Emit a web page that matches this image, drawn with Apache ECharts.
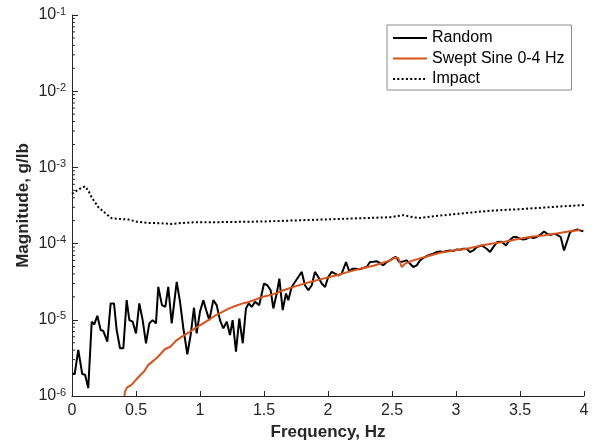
<!DOCTYPE html>
<html>
<head>
<meta charset="utf-8">
<script src="https://cdn.jsdelivr.net/npm/echarts@6/dist/echarts.min.js"></script>
<style>html,body{margin:0;padding:0;background:#fff;}#c{width:593px;height:446px;}</style>
</head>
<body>
<div id="c"></div>
<script>
var seriesNames = ['Random', 'Swept Sine 0-4 Hz', 'Impact'];
var xTicks = [0, 0.5, 1, 1.5, 2, 2.5, 3, 3.5, 4];
var yDecades = [1e-6, 1e-5, 1e-4, 1e-3, 1e-2, 1e-1];

var randomFreq = [0.005,0.021,0.049,0.080,0.102,0.127,0.154,0.174,0.198,0.224,0.245,0.276,0.302,0.328,0.349,0.375,0.401,0.427,0.448,0.474,0.500,0.526,0.552,0.578,0.604,0.630,0.656,0.674,0.703,0.729,0.752,0.779,0.818,0.844,0.870,0.901,0.927,0.953,0.974,1.000,1.026,1.052,1.073,1.104,1.130,1.156,1.182,1.209,1.234,1.255,1.281,1.307,1.334,1.359,1.380,1.404,1.430,1.463,1.500,1.526,1.552,1.573,1.599,1.620,1.646,1.672,1.690,1.716,1.742,1.768,1.795,1.820,1.846,1.873,1.898,1.924,1.951,1.977,2.002,2.029,2.055,2.080,2.107,2.141,2.166,2.193,2.219,2.245,2.276,2.302,2.328,2.354,2.380,2.406,2.432,2.459,2.484,2.510,2.531,2.557,2.588,2.615,2.641,2.666,2.693,2.719,2.745,2.771,2.797,2.823,2.849,2.875,2.901,2.927,2.953,2.979,3.005,3.031,3.057,3.084,3.109,3.135,3.162,3.201,3.240,3.266,3.291,3.323,3.357,3.391,3.416,3.448,3.474,3.500,3.526,3.552,3.578,3.604,3.630,3.656,3.688,3.713,3.740,3.766,3.791,3.818,3.844,3.870,3.891,3.916,3.948,3.974,3.995];
var randomMag = [1.94e-6,1.94e-6,4.02e-6,1.94e-6,1.90e-6,1.27e-6,9.44e-6,8.71e-6,1.13e-5,7.34e-6,7.12e-6,5.18e-6,1.64e-5,1.64e-5,7.34e-6,4.23e-6,4.23e-6,1.81e-5,9.91e-6,9.44e-6,6.64e-6,1.64e-5,9.91e-6,4.92e-6,8.97e-6,9.91e-6,8.97e-6,2.70e-5,1.56e-5,1.48e-5,2.70e-5,8.97e-6,3.14e-5,1.72e-5,7.72e-6,3.53e-6,6.31e-6,1.44e-5,6.64e-6,1.28e-5,1.81e-5,1.28e-5,9.91e-6,1.81e-5,1.56e-5,9.91e-6,7.72e-6,9.44e-6,6.31e-6,9.91e-6,3.83e-6,1.04e-5,4.92e-6,1.41e-5,1.64e-5,1.48e-5,1.72e-5,1.56e-5,2.99e-5,2.84e-5,2.44e-5,1.41e-5,2.21e-5,3.47e-5,1.34e-5,2.21e-5,1.81e-5,2.70e-5,3.14e-5,3.65e-5,4.25e-5,2.84e-5,2.44e-5,2.84e-5,4.25e-5,3.65e-5,2.99e-5,2.70e-5,3.65e-5,4.25e-5,4.03e-5,3.84e-5,4.03e-5,5.73e-5,4.32e-5,4.69e-5,4.69e-5,4.59e-5,4.79e-5,4.93e-5,5.73e-5,5.78e-5,5.87e-5,5.53e-5,5.18e-5,5.73e-5,6.02e-5,6.47e-5,6.67e-5,5.73e-5,5.84e-5,6.02e-5,5.45e-5,4.93e-5,5.18e-5,6.02e-5,6.47e-5,6.87e-5,7.14e-5,7.36e-5,7.74e-5,7.89e-5,7.74e-5,7.98e-5,8.13e-5,7.98e-5,8.38e-5,8.30e-5,8.55e-5,8.55e-5,7.74e-5,8.13e-5,9.0e-5,9.44e-5,8.55e-5,7.74e-5,9.0e-5,1.05e-4,1.06e-4,9.44e-5,1.10e-4,1.22e-4,1.22e-4,1.16e-4,1.13e-4,1.16e-4,1.22e-4,1.18e-4,1.22e-4,1.30e-4,1.44e-4,1.34e-4,1.30e-4,1.34e-4,1.30e-4,1.22e-4,8.13e-5,1.10e-4,1.41e-4,1.48e-4,1.53e-4,1.48e-4,1.45e-4];

var sweptFreq = [0.41,0.414,0.432,0.467,0.492,0.531,0.563,0.596,0.635,0.674,0.727,0.766,0.813,0.862,0.914,0.966,1.018,1.068,1.120,1.172,1.224,1.276,1.328,1.380,1.432,1.484,1.536,1.600,1.651,1.755,1.859,1.963,2.068,2.172,2.276,2.354,2.406,2.484,2.523,2.549,2.576,2.602,2.666,2.771,2.875,2.979,3.084,3.175,3.276,3.380,3.484,3.588,3.693,3.797,3.901,3.974];
var sweptMag = [1.0e-6,1.15e-6,1.30e-6,1.41e-6,1.58e-6,1.86e-6,2.10e-6,2.56e-6,2.89e-6,3.30e-6,4.14e-6,4.39e-6,5.33e-6,6.07e-6,6.85e-6,7.84e-6,8.84e-6,9.97e-6,1.14e-5,1.26e-5,1.40e-5,1.52e-5,1.63e-5,1.71e-5,1.84e-5,1.99e-5,2.09e-5,2.24e-5,2.44e-5,2.79e-5,3.14e-5,3.47e-5,3.84e-5,4.32e-5,4.79e-5,5.13e-5,5.45e-5,6.02e-5,6.52e-5,6.47e-5,4.93e-5,5.45e-5,6.02e-5,6.79e-5,7.59e-5,8.13e-5,8.55e-5,9.27e-5,9.94e-5,1.06e-4,1.15e-4,1.23e-4,1.29e-4,1.37e-4,1.46e-4,1.51e-4];

var impactFreq = [0,0.037,0.076,0.102,0.128,0.154,0.180,0.206,0.245,0.284,0.310,0.375,0.440,0.505,0.583,0.688,0.779,0.869,0.974,1.130,1.500,2.000,2.484,2.588,2.641,2.706,2.797,3.005,3.266,3.526,3.786,4.000];
var impactMag = [4.50e-4,4.95e-4,5.40e-4,5.64e-4,4.93e-4,4.04e-4,3.48e-4,3.00e-4,2.63e-4,2.33e-4,2.15e-4,2.11e-4,2.07e-4,1.94e-4,1.87e-4,1.85e-4,1.81e-4,1.87e-4,1.91e-4,1.91e-4,1.95e-4,2.08e-4,2.22e-4,2.36e-4,2.26e-4,2.17e-4,2.26e-4,2.45e-4,2.70e-4,2.85e-4,3.05e-4,3.21e-4];

function pairs(xs, ys) { return xs.map(function (x, i) { return [x, ys[i]]; }); }

var FONT = 'Liberation Sans, Arial, Helvetica, sans-serif';
var AX = '#262626';
var chart = echarts.init(document.getElementById('c'), null, { renderer: 'canvas' });
var option = {
  animation: false,
  backgroundColor: '#ffffff',
  grid: { left: 72, right: 9, top: 15, bottom: 48, containLabel: false },
  xAxis: {
    type: 'value', min: 0, max: 4, interval: 0.5,
    name: 'Frequency, Hz', nameLocation: 'middle', nameGap: 28, nameMoveOverlap: false,
    nameTextStyle: { fontFamily: FONT, fontSize: 17, fontWeight: 'bold', color: AX },
    axisLine: { lineStyle: { color: AX, width: 1 } },
    axisTick: { inside: true, length: 5, lineStyle: { color: AX } },
    axisLabel: { fontFamily: FONT, fontSize: 16, color: AX, margin: 7,
      formatter: function (v) { return String(v); } },
    splitLine: { show: false }
  },
  yAxis: {
    type: 'log', logBase: 10, min: yDecades[0], max: yDecades[yDecades.length - 1],
    name: 'Magnitude, g/lb', nameLocation: 'middle', nameGap: 40, nameRotate: 90, nameMoveOverlap: false,
    nameTextStyle: { fontFamily: FONT, fontSize: 17, fontWeight: 'bold', color: AX },
    axisLine: { lineStyle: { color: AX, width: 1 } },
    axisTick: { inside: true, length: 6, lineStyle: { color: AX } },
    axisLabel: {
      margin: 6,
      formatter: function (v) {
        var e = Math.round(Math.log10(v));
        return '{b|10}{s|' + e + '}';
      },
      rich: {
        b: { fontFamily: FONT, fontSize: 16, color: AX, lineHeight: 18 },
        s: { fontFamily: FONT, fontSize: 11, color: AX, verticalAlign: 'top', lineHeight: 18, padding: [0, 0, 10, 0] }
      }
    },
    splitLine: { show: false }
  },
  legend: {
    orient: 'vertical', left: 387, top: 25,
    data: seriesNames,
    itemWidth: 34, itemHeight: 14, itemGap: 4.5,
    padding: [5, 7, 3, 5],
    itemStyle: { opacity: 0 },
    borderColor: '#8c8c8c', borderWidth: 1, backgroundColor: '#ffffff',
    textStyle: { fontFamily: FONT, fontSize: 16, lineHeight: 16, color: '#000000' }
  },
  series: [
    { name: seriesNames[0], type: 'line', data: pairs(randomFreq, randomMag), showSymbol: false, symbol: 'none',
      lineStyle: { color: '#000000', width: 2 }, itemStyle: { color: '#000000' }, z: 2 },
    { name: seriesNames[1], type: 'line', data: pairs(sweptFreq, sweptMag), showSymbol: false, symbol: 'none',
      lineStyle: { color: '#D95319', width: 2 }, itemStyle: { color: '#D95319' }, z: 3 },
    { name: seriesNames[2], type: 'line', data: pairs(impactFreq, impactMag), showSymbol: false, symbol: 'none',
      lineStyle: { color: '#000000', width: 2, type: [2, 2.3] }, itemStyle: { color: '#000000' }, z: 2 }
  ]
};
chart.setOption(option);

// minor log ticks (2..9 per decade) on the y axis
var minor = [];
for (var d = 0; d < yDecades.length - 1; d++) {
  for (var m = 2; m <= 9; m++) {
    var val = yDecades[d] * m;
    var p = chart.convertToPixel({ xAxisIndex: 0, yAxisIndex: 0 }, [0, val]);
    minor.push({ type: 'line', shape: { x1: p[0], y1: p[1], x2: p[0] + 3, y2: p[1] },
      style: { stroke: AX, lineWidth: 1 }, silent: true });
  }
}
chart.setOption({ graphic: minor });
</script>
</body>
</html>
